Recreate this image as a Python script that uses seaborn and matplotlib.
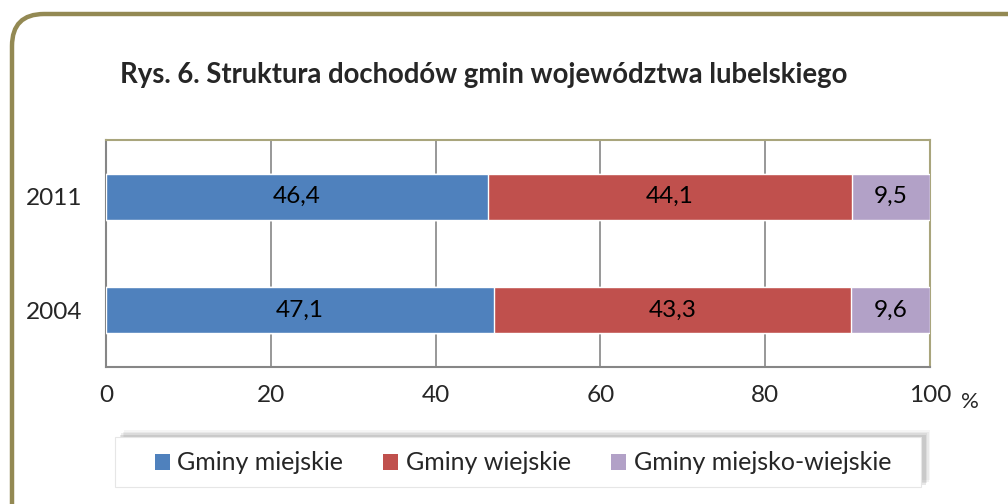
import matplotlib
matplotlib.use("Agg")
import matplotlib.pyplot as plt
from matplotlib.patches import FancyBboxPatch, Rectangle, Patch
import seaborn as sns
import pandas as pd
import numpy as np

years = ["2011", "2004"]
miejskie = [46.4, 47.1]
wiejskie = [44.1, 43.3]
miejsko_wiejskie = [9.5, 9.6]
series_names = ["Gminy miejskie", "Gminy wiejskie", "Gminy miejsko-wiejskie"]
colors = ["#4F81BD", "#C0504D", "#B2A1C7"]
x_ticks = [0, 20, 40, 60, 80, 100]
title = "Rys. 6. Struktura dochodów gmin województwa lubelskiego"

sns.set_theme(style="white")
plt.rcParams["font.family"] = ["Lato", "DejaVu Sans"]

df = pd.DataFrame({"rok": years,
                   series_names[0]: miejskie,
                   series_names[1]: wiejskie,
                   series_names[2]: miejsko_wiejskie})
parts = df[series_names].values
cum = np.cumsum(parts, axis=1)

fig = plt.figure(figsize=(10.08, 5.04), dpi=100)

# background frame + legend box, drawn in pixel coords
bg = fig.add_axes([0, 0, 1, 1], zorder=-1)
bg.set_xlim(0, 1008)
bg.set_ylim(504, 0)
bg.axis("off")
bg.add_patch(FancyBboxPatch((12, 14), 1040, 540,
                            boxstyle="round,pad=0,rounding_size=32",
                            facecolor="white", edgecolor="#938953", lw=3.2))
# soft legend shadow
for i, a in enumerate([0.06, 0.08, 0.10, 0.14]):
    off = 7 - i * 1.5
    bg.add_patch(Rectangle((117 + off, 437 - off), 806, 50,
                           facecolor="#606060", edgecolor="none", alpha=a))
bg.add_patch(Rectangle((115, 437), 806, 50, facecolor="white",
                       edgecolor="#E6E6E6", lw=0.8))

ax = fig.add_axes([106 / 1008, 1 - 367 / 504, (930 - 106) / 1008, (367 - 140) / 504])

# stacked bars: cumulative totals, widest first
for k in range(len(series_names) - 1, -1, -1):
    sns.barplot(x=cum[:, k], y=df["rok"], orient="h", color=colors[k],
                width=0.405, saturation=1, ax=ax, zorder=3)

for i in range(len(years)):
    for k in range(len(series_names)):
        left = cum[i, k] - parts[i, k]
        ax.text(left + parts[i, k] / 2, i, f"{parts[i, k]:.1f}".replace(".", ","),
                ha="center", va="center", fontsize=17.6, color="black", zorder=4)

ax.set_xlim(0, 100)
ax.set_ylim(1.5, -0.5)
ax.set_xticks(x_ticks)
ax.set_xticklabels([str(t) for t in x_ticks], fontsize=17.6)
ax.set_yticks(range(len(years)))
ax.set_yticklabels(years, fontsize=17.6)
ax.set_yticks([-0.5, 0.5, 1.5], minor=True)
ax.tick_params(axis="y", which="major", length=0, pad=17)
ax.tick_params(axis="y", which="minor", length=6.5, width=1.2, color="#868686", direction="out")
ax.tick_params(axis="x", length=6, width=1.2, color="#868686", direction="out", pad=7)
ax.set_xlabel("")
ax.set_ylabel("")
ax.grid(axis="x", color="#868686", lw=1.2, zorder=0)
ax.set_axisbelow(True)
for s in ["left", "bottom"]:
    ax.spines[s].set_color("#868686")
    ax.spines[s].set_linewidth(1.5)
for s in ["top", "right"]:
    ax.spines[s].set_color("#A9A57C")
    ax.spines[s].set_linewidth(1.5)

fig.text(970 / 1008, 1 - 402 / 504, "%", fontsize=16, ha="center", va="center")
fig.text(120 / 1008, 1 - 75 / 504, title, fontsize=19.8, fontweight="bold",
         ha="left", va="center")

handles = [Patch(facecolor=c, edgecolor="none") for c in colors]
fig.legend(handles, series_names, loc="center", bbox_to_anchor=(523 / 1008, 1 - 463 / 504),
           ncol=3, frameon=False, fontsize=18, handlelength=0.6, handleheight=0.6,
           handletextpad=0.3, columnspacing=1.6)

fig.savefig("out.png", dpi=100)
plt.close()
